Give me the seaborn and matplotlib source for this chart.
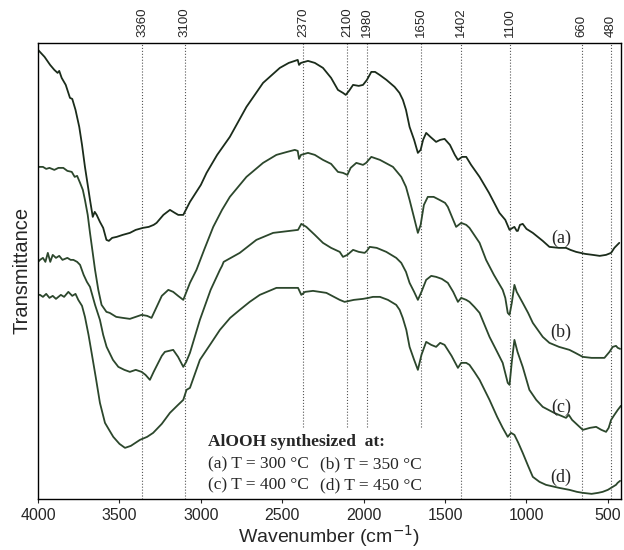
import numpy as np
import pandas as pd
import seaborn as sns
import matplotlib
matplotlib.use("Agg")
import matplotlib.pyplot as plt

# Espectros FTIR (transmitancia en unidades arbitrarias)
wn_a = [4000, 3960, 3926, 3900, 3880, 3870, 3855, 3830, 3804, 3790, 3770, 3747, 3730, 3712, 3695,
        3681, 3664, 3652, 3640, 3620, 3600, 3580, 3565, 3545, 3517, 3480, 3436, 3400, 3356, 3320,
        3290, 3272, 3230, 3190, 3160, 3139, 3108, 3067, 3000, 2965, 2900, 2822, 2720, 2618, 2515,
        2460, 2423, 2405, 2397, 2385, 2342, 2300, 2250, 2200, 2158, 2127, 2110, 2090, 2065, 2030,
        2004, 1980, 1953, 1930, 1902, 1860, 1810, 1780, 1759, 1740, 1718, 1690, 1667, 1650, 1635,
        1616, 1590, 1555, 1530, 1503, 1470, 1440, 1421, 1395, 1370, 1340, 1288, 1230, 1166, 1130,
        1104, 1085, 1074, 1060, 1053, 1040, 1023, 1000, 961, 900, 859, 800, 757, 730, 695,
        640, 593, 550, 511, 480, 460, 430]
t_a = [449, 442, 434, 429, 426, 428, 421, 414, 401, 400, 389, 372, 354, 332, 314,
       299, 282, 287, 284, 277, 271, 259, 258, 261, 262, 264, 266, 269, 271, 272,
       274, 276, 284, 289, 286, 284, 284, 297, 314, 326, 344, 362, 392, 416, 431,
       436, 438, 439, 434, 436, 438, 436, 431, 421, 409, 406, 404, 408, 414, 413,
       414, 419, 427, 427, 424, 419, 412, 406, 399, 389, 372, 359, 346, 349, 359,
       366, 362, 357, 359, 360, 354, 344, 339, 342, 342, 334, 322, 306, 286, 279,
       269, 271, 272, 268, 268, 274, 275, 270, 266, 258, 252, 251, 251, 249, 247,
       245, 244, 243, 244, 246, 251, 256]

wn_b = [4000, 3970, 3950, 3930, 3900, 3875, 3845, 3820, 3793, 3775, 3760, 3742, 3725, 3712, 3695,
        3681, 3665, 3650, 3630, 3610, 3580, 3560, 3520, 3480, 3436, 3400, 3364, 3330, 3303, 3280,
        3240, 3200, 3170, 3140, 3108, 3067, 3027, 2980, 2924, 2870, 2822, 2720, 2618, 2536, 2470,
        2423, 2405, 2397, 2385, 2342, 2300, 2250, 2200, 2158, 2127, 2100, 2080, 2045, 2004, 1985,
        1953, 1900, 1820, 1769, 1740, 1718, 1690, 1667, 1650, 1630, 1606, 1570, 1534, 1500, 1483,
        1450, 1432, 1401, 1370, 1350, 1288, 1248, 1200, 1146, 1130, 1115, 1104, 1090, 1074, 1060,
        1023, 990, 961, 900, 859, 800, 736, 700, 654, 600, 550, 521, 490, 470, 450, 439, 425]
t_b = [332, 332, 330, 331, 329, 331, 331, 328, 327, 322, 323, 316, 309, 299, 284,
       266, 247, 229, 209, 194, 187, 186, 182, 181, 180, 182, 184, 183, 181, 189,
       203, 209, 207, 203, 199, 216, 229, 249, 272, 289, 302, 322, 336, 344, 347,
       349, 348, 340, 344, 346, 344, 339, 335, 327, 326, 324, 331, 336, 334, 336,
       342, 339, 332, 322, 312, 299, 281, 266, 274, 294, 302, 302, 299, 296, 292,
       279, 272, 276, 274, 271, 256, 239, 224, 209, 201, 186, 184, 196, 214, 207,
       196, 186, 176, 162, 156, 152, 149, 146, 142, 141, 141, 141, 147, 152, 153, 151, 150]

wn_c = [4000, 3988, 3970, 3955, 3940, 3925, 3910, 3890, 3870, 3850, 3820, 3800, 3783, 3760, 3742,
        3720, 3700, 3681, 3650, 3620, 3600, 3579, 3540, 3507, 3470, 3436, 3400, 3364, 3340, 3313,
        3290, 3262, 3240, 3221, 3170, 3140, 3108, 3090, 3067, 3006, 2940, 2883, 2870, 2860, 2761,
        2659, 2556, 2403, 2383, 2352, 2300, 2250, 2200, 2147, 2127, 2100, 2065, 2030, 1994, 1980,
        1963, 1920, 1861, 1800, 1769, 1740, 1718, 1690, 1667, 1645, 1616, 1585, 1555, 1520, 1483,
        1450, 1421, 1401, 1370, 1350, 1320, 1288, 1227, 1180, 1146, 1115, 1104, 1090, 1074, 1055,
        1023, 982, 940, 900, 830, 757, 740, 720, 654, 610, 572, 540, 511, 495, 480, 460, 439, 420]
t_c = [237, 239, 241, 237, 246, 237, 244, 241, 243, 239, 241, 239, 239, 237, 234,
       224, 217, 212, 194, 179, 164, 152, 139, 132, 129, 127, 129, 127, 124, 119,
       127, 136, 143, 147, 149, 142, 132, 137, 146, 179, 209, 229, 233, 237, 246,
       259, 266, 269, 275, 272, 264, 256, 251, 247, 242, 244, 249, 247, 246, 248,
       252, 251, 247, 241, 236, 227, 216, 207, 199, 207, 219, 223, 222, 220, 216,
       207, 197, 201, 199, 197, 192, 186, 162, 147, 136, 116, 114, 137, 159, 147,
       132, 109, 99, 92, 86, 81, 84, 79, 69, 71, 72, 69, 67, 71, 79, 84, 89, 93]

wn_d = [4000, 3988, 3970, 3950, 3930, 3910, 3890, 3860, 3840, 3814, 3790, 3770, 3753, 3730, 3712,
        3690, 3671, 3645, 3620, 3589, 3560, 3538, 3500, 3466, 3430, 3374, 3330, 3293, 3240, 3190,
        3140, 3108, 3088, 3067, 3006, 2940, 2883, 2820, 2761, 2700, 2638, 2536, 2403, 2383, 2360,
        2311, 2229, 2147, 2117, 2060, 2004, 1970, 1943, 1900, 1851, 1800, 1779, 1760, 1738, 1718,
        1690, 1667, 1645, 1616, 1585, 1555, 1530, 1503, 1460, 1421, 1401, 1370, 1350, 1320, 1288,
        1227, 1180, 1146, 1115, 1095, 1074, 1050, 1023, 990, 961, 920, 880, 800, 736, 690,
        654, 600, 560, 532, 500, 470, 450, 440, 425]
t_d = [204, 204, 202, 205, 201, 203, 200, 204, 202, 207, 203, 205, 199, 193, 182,
       164, 146, 121, 96, 76, 68, 62, 55, 51, 53, 59, 62, 66, 75, 86,
       94, 99, 109, 111, 139, 155, 169, 181, 189, 197, 204, 211, 211, 204, 207,
       208, 206, 199, 197, 199, 200, 201, 202, 202, 199, 194, 189, 181, 169, 152,
       139, 129, 144, 157, 154, 152, 156, 154, 143, 131, 136, 136, 134, 127, 119,
       99, 82, 71, 62, 66, 64, 56, 46, 33, 22, 17, 14, 11, 9, 7,
       6, 5, 6, 7, 9, 12, 14, 16, 18]

muestras = ["(a)", "(b)", "(c)", "(d)"]
picos = [3360, 3100, 2370, 2100, 1980, 1650, 1402, 1100, 660, 480]
picos_cortos = [2370, 2100, 1980, 1650]   # lineas que terminan sobre el recuadro
xticks = [4000, 3500, 3000, 2500, 2000, 1500, 1000, 500]
etiq_y = [261, 167, 92, 22]

df = pd.concat([
    pd.DataFrame({"wn": w, "T": t, "muestra": m})
    for w, t, m in zip([wn_a, wn_b, wn_c, wn_d], [t_a, t_b, t_c, t_d], muestras)
])

sns.set_style("white")
plt.rcParams['font.family'] = ['Liberation Sans', 'DejaVu Sans']

fig = plt.figure(figsize=(6.24, 5.5), dpi=100)
ax = fig.add_axes([0.061, 0.093, 0.934, 0.829])

colores = {"(a)": "#1b2c1b", "(b)": "#2c472c", "(c)": "#2c472c", "(d)": "#2c472c"}
sns.lineplot(data=df, x="wn", y="T", hue="muestra", palette=colores, estimator=None,
             sort=False, legend=False, linewidth=1.3, ax=ax)

for p in picos:
    ymin = 0.158 if p in picos_cortos else 0
    ax.axvline(p, ymin=ymin, ymax=1, color="#555555", linestyle=":", linewidth=0.8, zorder=0)
    ax.text(p, 462, str(p), rotation=90, ha="center", va="bottom", fontsize=9.5)

ax.set_xlim(4000, 420)
ax.set_ylim(0, 456)
ax.set_xticks(xticks)
ax.set_yticks([])
ax.tick_params(axis="x", labelsize=11.5, length=3, direction="out", bottom=True)
ax.set_xlabel("Wavenumber (cm$^{-1}$)", fontsize=14, labelpad=0)
ax.set_ylabel("Transmittance", fontsize=14.5, labelpad=5)
for s in ax.spines.values():
    s.set_color("black")
    s.set_linewidth(1.0)

serif = ['Liberation Serif', 'DejaVu Serif']
for m, y in zip(muestras, etiq_y):
    ax.text(787, y, m, fontsize=13, family=serif, ha="center", va="center")

ax.text(2957, 57, "AlOOH synthesized  at:", fontsize=12.5, family=serif, weight="bold", va="center")
ax.text(2957, 34, "(a) T = 300 °C", fontsize=12.5, family=serif, va="center")
ax.text(2957, 13, "(c) T = 400 °C", fontsize=12.5, family=serif, va="center")
ax.text(2270, 34, "(b) T = 350 °C", fontsize=12.5, family=serif, va="center")
ax.text(2270, 13, "(d) T = 450 °C", fontsize=12.5, family=serif, va="center")

fig.savefig("out.png", dpi=100)
